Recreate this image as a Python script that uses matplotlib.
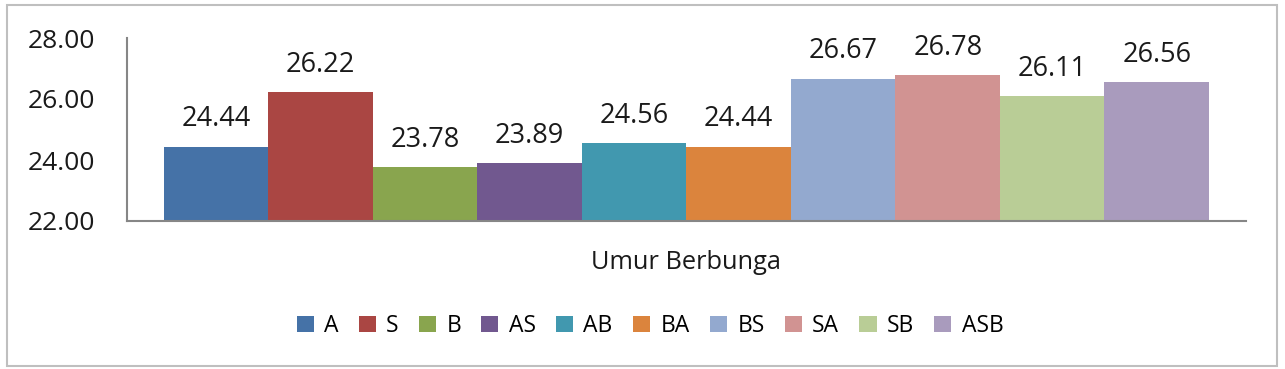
import matplotlib
matplotlib.use("Agg")
import matplotlib.pyplot as plt
from matplotlib.patches import Rectangle

plt.rcParams['font.family'] = ['Open Sans', 'DejaVu Sans']

category = "Umur Berbunga"
series = ["A", "S", "B", "AS", "AB", "BA", "BS", "SA", "SB", "ASB"]
values = [24.44, 26.22, 23.78, 23.89, 24.56, 24.44, 26.67, 26.78, 26.11, 26.56]
colors = ["#4572A7", "#AA4643", "#89A54E", "#71588F", "#4198AF",
          "#DB843D", "#93A9CF", "#D19392", "#B9CD96", "#A99BBD"]
yticks = [22, 24, 26, 28]

fig = plt.figure(figsize=(12.85, 3.69), dpi=100)
fig.patch.set_facecolor("white")
fig.add_artist(Rectangle((7/1285, 3/369), 1270/1285, 361/369, transform=fig.transFigure,
                         fill=False, edgecolor="#BFBFBF", linewidth=1.5))

ax = fig.add_axes([127/1285, 1 - 221/369, 1119/1285, 183/369])
n = len(series)
bw = 1.0
for i, (s, v, c) in enumerate(zip(series, values, colors)):
    x = (i - (n - 1) / 2) * bw
    ax.bar(x, v - 22, width=bw, bottom=22, color=c, label=s, linewidth=0)
    ax.annotate(f"{v:.2f}", (x, v), xytext=(0, 14.5), textcoords="offset points",
                ha="center", va="baseline", fontsize=19.5, color="#1a1a1a")

half = 5 * bw * 1119 / 1045
ax.set_xlim(-half, half)
ax.set_ylim(22, 28)
ax.set_yticks(yticks)
ax.set_yticklabels([f"{t:.2f}" for t in yticks], fontsize=19, color="#1a1a1a")
ax.tick_params(axis="y", length=0, pad=23)
ax.set_xticks([0])
ax.set_xticklabels([category], fontsize=18.3, color="#1a1a1a")
ax.tick_params(axis="x", length=0, pad=21)
for sp in ["top", "right"]:
    ax.spines[sp].set_visible(False)
for sp in ["left", "bottom"]:
    ax.spines[sp].set_color("#868686")
    ax.spines[sp].set_linewidth(1.5)

leg = fig.legend(loc="center", bbox_to_anchor=(650/1285, 1 - 326/369), ncol=n,
                 frameon=False, fontsize=16.5, handlelength=0.75, handleheight=0.75,
                 handletextpad=0.45, columnspacing=0.88, borderaxespad=0)

fig.savefig("out.png", dpi=100)
